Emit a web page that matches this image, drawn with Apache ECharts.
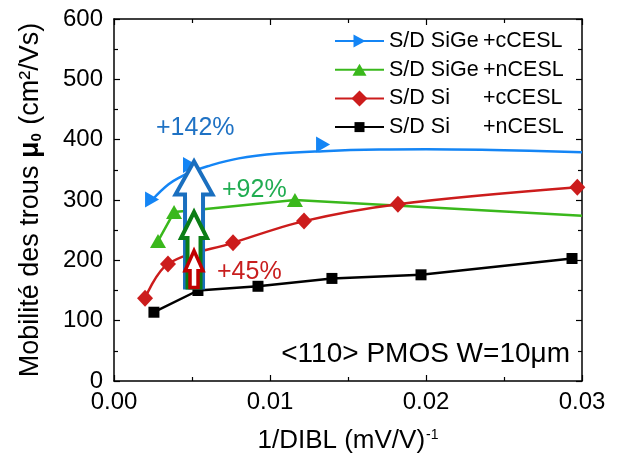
<!DOCTYPE html>
<html>
<head>
<meta charset="utf-8">
<script src="https://cdn.jsdelivr.net/npm/echarts@6/dist/echarts.min.js"></script>
<style>html,body{margin:0;padding:0;background:#fff;}#c{width:617px;height:459px;}</style>
</head>
<body>
<div id="c"></div>
<script>
// ---- data ----
const seriesNames = ['S/D SiGe +cCESL', 'S/D SiGe +nCESL', 'S/D Si +cCESL', 'S/D Si +nCESL'];
const legendPrefix = ['S/D SiGe', 'S/D SiGe', 'S/D Si', 'S/D Si'];
const legendSuffix = ['+cCESL', '+nCESL', '+cCESL', '+nCESL'];

const blueMarkX = [0.00244, 0.00487, 0.0134];
const blueMarkY = [301, 358, 392];
const blueFitX = [0.00244, 0.0035, 0.0044, 0.0048, 0.0060, 0.0080, 0.0105, 0.0134, 0.017, 0.020, 0.025, 0.030];
const blueFitY = [300, 326, 340, 345, 356, 369, 377, 381, 383.5, 384, 382.5, 379];

const greenX = [0.00282, 0.00385, 0.0051, 0.0116, 0.030];
const greenY = [232, 280, 283, 300, 274];
const greenMarkCount = 4;

const redX = [0.00199, 0.00346, 0.00763, 0.01218, 0.0182, 0.0297];
const redY = [137, 194, 229, 265, 293, 321];

const blackX = [0.00256, 0.00538, 0.00923, 0.01397, 0.01968, 0.02936];
const blackY = [114, 150, 157, 170, 176, 203];

const arrowX = 0.00513;
const arrowBase = 155;
const arrowTop = [364, 280, 216];
const arrowLabels = ['+142%', '+92%', '+45%'];
const cornerNote = '<110> PMOS W=10μm';

const xTickLabels = ['0.00', '0.01', '0.02', '0.03'];
const yTickLabels = ['0', '100', '200', '300', '400', '500', '600'];

// ---- styles ----
const FONT = 'Liberation Sans, Arial, sans-serif';
const cBlue = '#1485f5', cGreen = '#3ab81c', cRed = '#cc1c1c', cBlack = '#000';
const arrowColors = ['#1a6fbf', '#0b7d16', '#c00000'];
const arrowHeadHalf = [18.5, 13, 9];
const arrowShaftHalf = [9, 6.5, 4];
const arrowHeadLen = [33, 26, 20];
const arrowLW = [4, 4, 3.5];

const zip = (xs, ys) => xs.map((x, i) => [x, ys[i]]);

const triRight = 'path://M0,0 L14,8 L0,16 Z';
const triUp = 'path://M0,14 L8,0 L16,14 Z';
const legTriRight = 'path://M0,0 M16,16 M2,1.5 L14,8 L2,14.5 Z';
const legTriUp = 'path://M0,0 M16,16 M1,14 L8,2 L15,14 Z';
const legDiamond = 'path://M8,0 L16,8 L8,16 L0,8 Z';
const legSquare = 'path://M0,0 M16,16 M3,3 L13,3 L13,13 L3,13 Z';

const chart = echarts.init(document.getElementById('c'), null, {renderer: 'canvas'});

function lineSeries(name, data, color, legSym, smooth) {
  return {
    name: name, type: 'line', data: data, smooth: smooth,
    symbol: legSym, showSymbol: false, silent: true,
    lineStyle: {color: color, width: 2.5},
    itemStyle: {color: color},
    emphasis: {disabled: true}, z: 2
  };
}
function markSeries(data, color, sym, size) {
  return {
    type: 'scatter', data: data, symbol: sym, symbolSize: size, silent: true,
    itemStyle: {color: color, opacity: 1}, emphasis: {disabled: true}, z: 3
  };
}

const arrowData = arrowTop.map((t, i) => [arrowX, arrowBase, t, i]);

const option = {
  animation: false,
  backgroundColor: '#fff',
  textStyle: {fontFamily: FONT},
  grid: {left: 114, right: 35, top: 19, bottom: 76},
  legend: {
    data: seriesNames, orient: 'vertical', left: 329, top: 25, padding: 5,
    itemWidth: 49, itemHeight: 20, itemGap: 6.7, selectedMode: false,
    formatter: function (name) {
      const i = seriesNames.indexOf(name);
      return '{a|' + legendPrefix[i] + '}{b|' + legendSuffix[i] + '}';
    },
    textStyle: {fontSize: 21.5, color: '#000', fontFamily: FONT, lineHeight: 20,
      rich: {a: {width: 94, fontSize: 21.5, lineHeight: 20, fontFamily: FONT, color: '#000'},
             b: {fontSize: 21.5, lineHeight: 20, fontFamily: FONT, color: '#000'}}}
  },
  xAxis: [{
    type: 'value', min: 0, max: 0.03, interval: 0.01, position: 'bottom',
    name: '1/DIBL (mV/V){sup|-1}', nameLocation: 'middle', nameGap: 47,
    nameTextStyle: {fontSize: 26, color: '#000', fontFamily: FONT,
      rich: {sup: {fontSize: 14, verticalAlign: 'top', fontFamily: FONT, color: '#000', padding: [0, 0, 12, 1]}}},
    axisLine: {show: true, onZero: false, lineStyle: {color: '#000', width: 1.5}},
    axisTick: {show: true, inside: true, length: 6, lineStyle: {color: '#000', width: 1.2}},
    minorTick: {show: true, splitNumber: 2, length: 4, lineStyle: {color: '#000', width: 1.2}},
    splitLine: {show: false},
    axisLabel: {fontSize: 24, color: '#000', fontFamily: FONT, margin: 9,
      formatter: v => xTickLabels[Math.round(v / 0.01)]}
  }, {
    type: 'value', min: 0, max: 0.03, interval: 0.01, position: 'top',
    axisLine: {show: true, onZero: false, lineStyle: {color: '#000', width: 1.5}},
    axisTick: {show: true, inside: true, length: 6, lineStyle: {color: '#000', width: 1.2}},
    minorTick: {show: true, splitNumber: 2, length: 4, lineStyle: {color: '#000', width: 1.2}},
    splitLine: {show: false}, axisLabel: {show: false}
  }],
  yAxis: [{
    type: 'value', min: 0, max: 600, interval: 100, position: 'left',
    name: 'Mobilité des trous {b|μ}{s|0} (cm²/Vs)', nameLocation: 'middle', nameGap: 70, nameRotate: 90,
    nameTextStyle: {fontSize: 27, color: '#000', fontFamily: FONT,
      rich: {b: {fontSize: 27, fontWeight: 'bold', fontFamily: FONT, color: '#000'},
             s: {fontSize: 15, fontWeight: 'bold', fontFamily: FONT, color: '#000', verticalAlign: 'bottom', padding: [0, 1, 0, 0]}}},
    axisLine: {show: true, onZero: false, lineStyle: {color: '#000', width: 1.5}},
    axisTick: {show: true, inside: true, length: 6, lineStyle: {color: '#000', width: 1.2}},
    minorTick: {show: true, splitNumber: 2, length: 4, lineStyle: {color: '#000', width: 1.2}},
    splitLine: {show: false},
    axisLabel: {fontSize: 24, color: '#000', fontFamily: FONT, margin: 11,
      formatter: v => yTickLabels[Math.round(v / 100)]}
  }, {
    type: 'value', min: 0, max: 600, interval: 100, position: 'right',
    axisLine: {show: true, onZero: false, lineStyle: {color: '#000', width: 1.5}},
    axisTick: {show: true, inside: true, length: 6, lineStyle: {color: '#000', width: 1.2}},
    minorTick: {show: true, splitNumber: 2, length: 4, lineStyle: {color: '#000', width: 1.2}},
    splitLine: {show: false}, axisLabel: {show: false}
  }],
  series: [
    lineSeries(seriesNames[0], zip(blueFitX, blueFitY), cBlue, legTriRight, 0.4),
    lineSeries(seriesNames[1], zip(greenX, greenY), cGreen, legTriUp, false),
    lineSeries(seriesNames[2], zip(redX, redY), cRed, legDiamond, 0.35),
    lineSeries(seriesNames[3], zip(blackX, blackY), cBlack, legSquare, false),
    markSeries(zip(blueMarkX, blueMarkY), cBlue, triRight, [14, 16]),
    markSeries(zip(greenX, greenY).slice(0, greenMarkCount), cGreen, triUp, [16, 14]),
    markSeries(zip(redX, redY), cRed, 'diamond', [16, 17]),
    markSeries(zip(blackX, blackY), cBlack, 'rect', [11, 11]),
    {
      type: 'custom', silent: true, z: 5, data: arrowData,
      renderItem: function (params, api) {
        const i = api.value(3);
        const pb = api.coord([api.value(0), api.value(1)]);
        const pt = api.coord([api.value(0), api.value(2)]);
        const cx = pb[0], yb = pb[1], yt = pt[1];
        const yh = yt + arrowHeadLen[i];
        const sh = arrowShaftHalf[i], hh = arrowHeadHalf[i];
        return {
          type: 'polygon', z2: 10 + i,
          shape: {points: [[cx - sh, yb], [cx - sh, yh], [cx - hh, yh], [cx, yt], [cx + hh, yh], [cx + sh, yh], [cx + sh, yb]]},
          style: {fill: '#fff', stroke: arrowColors[i], lineWidth: arrowLW[i], lineJoin: 'miter', miterLimit: 10}
        };
      }
    }
  ],
  graphic: [
    {type: 'text', left: 156, top: 116, z: 10, style: {text: arrowLabels[0], fill: '#1f72c4', font: '25px ' + FONT}},
    {type: 'text', left: 222, top: 178, z: 10, style: {text: arrowLabels[1], fill: '#21ad52', font: '25px ' + FONT}},
    {type: 'text', left: 217, top: 260, z: 10, style: {text: arrowLabels[2], fill: '#c81e1e', font: '25px ' + FONT}},
    {type: 'text', right: 47, top: 340, z: 10, style: {text: cornerNote, fill: '#000', font: '28px ' + FONT}}
  ]
};
chart.setOption(option);
</script>
</body>
</html>
